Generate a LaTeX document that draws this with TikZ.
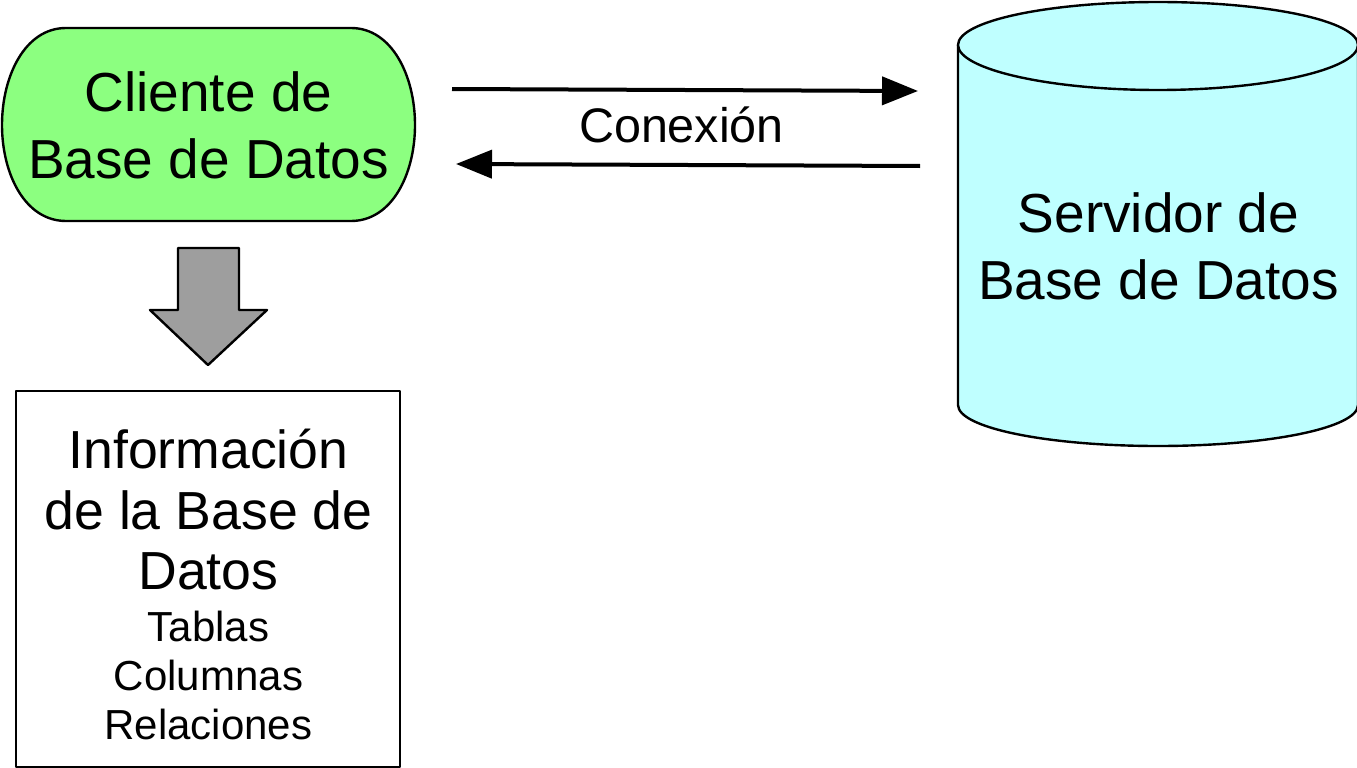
\documentclass[tikz,border=0pt]{standalone}
\usepackage{fontspec}
\setmainfont{Liberation Sans}
\usetikzlibrary{positioning, arrows.meta}
\definecolor{clientgreen}{HTML}{8CFF80}
\definecolor{servercyan}{HTML}{BFFFFF}
\definecolor{arrowgray}{HTML}{9E9E9E}
\tikzset{
x=1pt, y=-1pt,
outline/.style={line width=2.4pt, line join=round},
bigtext/.style={font=\fontsize{55}{67}\selectfont, align=center, text=black},
titletext/.style={font=\fontsize{53.6}{60.5}\selectfont, align=center, text=black},
smalltext/.style={font=\fontsize{42}{49}\selectfont, align=center, text=black},
link/.style={-{Triangle[length=36pt,width=28pt]}, line width=4pt},
}

\begin{document}
\begin{tikzpicture}
    \useasboundingbox (0,0) rectangle (1357,768);
    % cliente
    \draw[outline, fill=clientgreen] (66,28) -- (351,28)
        .. controls (392,28) and (415,76) .. (415,125)
        .. controls (415,174) and (392,221) .. (351,221)
        -- (66,221)
        .. controls (25,221) and (2,174) .. (2,125)
        .. controls (2,76) and (25,28) .. (66,28) -- cycle;
    \node[bigtext] (cliente) at (208.5,125) {Cliente de\\Base de Datos};
    % servidor
    \draw[outline, fill=servercyan] (958,45)
        -- (958,405)
        .. controls (958,428) and (1048,446) .. (1158,446)
        .. controls (1268,446) and (1358,428) .. (1358,405)
        -- (1358,45) -- cycle;
    \draw[outline, fill=servercyan] (958,45)
        .. controls (958,21) and (1048,2) .. (1158,2)
        .. controls (1268,2) and (1358,21) .. (1358,45)
        .. controls (1358,69) and (1268,90) .. (1158,90)
        .. controls (1048,90) and (958,69) .. (958,45) -- cycle;
    \node[bigtext] (servidor) at (1158.5,246) {Servidor de\\Base de Datos};
    % conexion
    \coordinate (ida1) at (452,89);
    \coordinate (ida2) at (918,91);
    \coordinate (vuelta1) at (920,166);
    \coordinate (vuelta2) at (456,164);
    \draw[link] (ida1) -- (ida2);
    \draw[link] (vuelta1) -- (vuelta2);
    \node[font=\fontsize{48.5}{58}\selectfont] (conexion) at (681.5,125) {Conexión};
    % flecha gris
    \draw[outline, fill=arrowgray] (178,248) -- (239,248) -- (239,310) -- (267,310)
        -- (208,365) -- (150,310) -- (178,310) -- cycle;
    % informacion
    \node[draw, outline, fill=white, minimum width=384pt, minimum height=376pt] (info) at (208,579) {};
    \node[titletext] (titulo) at (208.5,510) {Información\\de la Base de\\Datos};
    \node[smalltext] (lista) at (208.5,675) {Tablas\\Columnas\\Relaciones};
\end{tikzpicture}
\end{document}
